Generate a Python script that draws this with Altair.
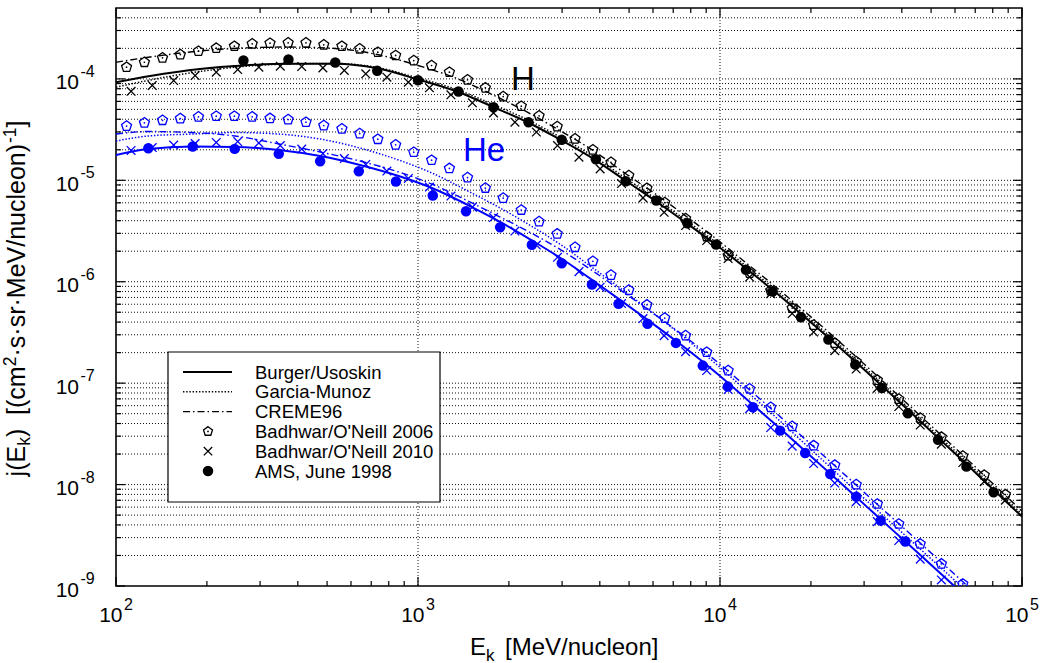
import numpy as np
import pandas as pd
import altair as alt

# ---------------- data: log10(E [MeV/nucleon]) and log10(j) ----------------
# model curves (H)
H_LINE_LOGE = [2.000, 2.113, 2.278, 2.421, 2.570, 2.726, 2.865, 3.000, 3.133, 3.249, 3.368, 3.458, 3.590, 3.689,
               3.789, 3.891, 3.988, 4.087, 4.173, 4.269, 4.359, 4.448, 4.537, 4.623, 4.723, 4.816, 4.905, 5.000]
H_BU_LOGJ = [-4.033, -3.972, -3.903, -3.868, -3.851, -3.851, -3.896, -4.006, -4.129, -4.277, -4.435, -4.578, -4.805,
             -5.007, -5.209, -5.426, -5.638, -5.870, -6.077, -6.319, -6.551, -6.787, -7.029, -7.265, -7.542, -7.798,
             -8.050, -8.316]
H_GM_LOGJ = [-4.082, -4.011, -3.927, -3.878, -3.853, -3.848, -3.888, -3.991, -4.110, -4.253, -4.410, -4.553, -4.780,
             -4.982, -5.185, -5.402, -5.614, -5.845, -6.052, -6.294, -6.526, -6.763, -7.004, -7.241, -7.517, -7.773,
             -8.025, -8.291]
H_CR_LOGJ = [-3.836, -3.784, -3.725, -3.695, -3.686, -3.700, -3.760, -3.868, -4.001, -4.159, -4.337, -4.489, -4.726,
             -4.938, -5.140, -5.362, -5.579, -5.816, -6.023, -6.265, -6.496, -6.733, -6.975, -7.211, -7.487, -7.744,
             -7.995, -8.262]

# model curves (He)
HE_BU_LOGE = [2.000, 2.106, 2.252, 2.394, 2.540, 2.676, 2.808, 2.941, 3.050, 3.159, 3.272, 3.378, 3.477, 3.577,
              3.663, 3.759, 3.855, 3.944, 4.027, 4.110, 4.199, 4.282, 4.365, 4.451, 4.531, 4.614, 4.696, 4.796]
HE_BU_LOGJ = [-4.751, -4.692, -4.667, -4.672, -4.701, -4.761, -4.849, -4.963, -5.081, -5.234, -5.411, -5.594, -5.776,
              -5.983, -6.166, -6.373, -6.585, -6.792, -6.999, -7.216, -7.448, -7.670, -7.892, -8.123, -8.340, -8.562,
              -8.784, -9.055]
HE_GM_LOGE = [2.000, 2.106, 2.252, 2.394, 2.540, 2.676, 2.808, 2.941, 3.050, 3.159, 3.272, 3.378, 3.477, 3.577,
              3.663, 3.759, 3.855, 3.944, 4.027, 4.110, 4.199, 4.282, 4.365, 4.451, 4.531, 4.614, 4.696, 4.796, 4.845]
HE_GM_LOGJ = [-4.613, -4.563, -4.544, -4.529, -4.544, -4.593, -4.682, -4.805, -4.933, -5.096, -5.273, -5.456, -5.643,
              -5.860, -6.048, -6.265, -6.486, -6.703, -6.915, -7.137, -7.374, -7.601, -7.828, -8.064, -8.281, -8.503,
              -8.725, -8.996, -9.134]
HE_CR_LOGE = [2.000, 2.106, 2.252, 2.394, 2.540, 2.676, 2.808, 2.941, 3.050, 3.159, 3.272, 3.378, 3.477, 3.577,
              3.663, 3.759, 3.855, 3.944, 4.027, 4.110, 4.199, 4.282, 4.365, 4.451, 4.531, 4.614, 4.696, 4.796, 4.862]
HE_CR_LOGJ = [-4.544, -4.519, -4.529, -4.563, -4.642, -4.721, -4.810, -4.923, -5.042, -5.195, -5.362, -5.525, -5.693,
              -5.890, -6.067, -6.269, -6.477, -6.679, -6.881, -7.098, -7.330, -7.552, -7.773, -8.005, -8.222, -8.444,
              -8.666, -8.937, -9.115]

# Badhwar/O'Neill 2006 (pentagons)
B06_LOGE = [2.035, 2.094, 2.154, 2.213, 2.273, 2.332, 2.392, 2.451, 2.510, 2.570, 2.629, 2.688, 2.748, 2.807, 2.867,
            2.926, 2.986, 3.045, 3.104, 3.164, 3.223, 3.282, 3.342, 3.401, 3.461, 3.520, 3.579, 3.639, 3.698, 3.758,
            3.817, 3.886, 3.956, 4.027, 4.098, 4.168, 4.239, 4.310, 4.380, 4.451, 4.521, 4.592, 4.663, 4.733, 4.804,
            4.875, 4.945]
H_B06_LOGJ = [-3.885, -3.836, -3.792, -3.760, -3.727, -3.697, -3.678, -3.654, -3.648, -3.644, -3.644, -3.664, -3.678,
              -3.703, -3.737, -3.769, -3.819, -3.868, -3.934, -4.009, -4.088, -4.174, -4.269, -4.364, -4.470, -4.591,
              -4.699, -4.822, -4.953, -5.078, -5.219, -5.377, -5.554, -5.742, -5.916, -6.087, -6.260, -6.427, -6.605,
              -6.787, -6.970, -7.157, -7.344, -7.532, -7.719, -7.907, -8.099]
HE_B06_LOGJ = [-4.465, -4.433, -4.408, -4.391, -4.374, -4.368, -4.368, -4.374, -4.389, -4.401, -4.427, -4.460, -4.492,
               -4.539, -4.595, -4.650, -4.723, -4.802, -4.882, -4.973, -5.076, -5.175, -5.293, -5.407, -5.528, -5.660,
               -5.798, -5.934, -6.082, -6.228, -6.358, -6.531, -6.695, -6.876, -7.056, -7.238, -7.425, -7.616, -7.808,
               -8.000, -8.191, -8.388, -8.585, -8.782, -8.980, -9.174]

# Badhwar/O'Neill 2010 (crosses)
B10_LOGE = [2.050, 2.120, 2.191, 2.262, 2.332, 2.403, 2.473, 2.544, 2.615, 2.685, 2.756, 2.827, 2.897, 2.968, 3.038,
            3.109, 3.180, 3.250, 3.321, 3.392, 3.462, 3.533, 3.603, 3.674, 3.745, 3.815, 3.886, 3.956, 4.027, 4.098,
            4.168, 4.239, 4.310, 4.380, 4.451, 4.521, 4.592, 4.663, 4.733, 4.804, 4.875, 4.945]
H_B10_LOGJ = [-4.122, -4.065, -4.016, -3.967, -3.934, -3.908, -3.885, -3.875, -3.878, -3.891, -3.917, -3.950, -3.983,
              -4.033, -4.088, -4.157, -4.236, -4.335, -4.427, -4.524, -4.657, -4.772, -4.887, -5.032, -5.173, -5.315,
              -5.446, -5.594, -5.771, -5.954, -6.117, -6.314, -6.496, -6.679, -6.861, -7.049, -7.231, -7.413, -7.601,
              -7.783, -7.971, -8.153]
HE_B10_LOGJ = [-4.706, -4.677, -4.652, -4.637, -4.627, -4.618, -4.632, -4.657, -4.692, -4.736, -4.785, -4.844, -4.909,
               -4.982, -5.066, -5.155, -5.264, -5.367, -5.500, -5.638, -5.759, -5.900, -6.054, -6.215, -6.363, -6.531,
               -6.689, -6.876, -7.063, -7.251, -7.438, -7.621, -7.793, -7.985, -8.168, -8.365, -8.552, -8.735, -8.940,
               -9.124]

# AMS, June 1998 (filled circles)
H_AMS_LOGE = [2.422, 2.571, 2.726, 2.865, 3.000, 3.134, 3.250, 3.366, 3.476, 3.589, 3.688, 3.789, 3.892, 3.987,
              4.086, 4.174, 4.268, 4.359, 4.448, 4.536, 4.622, 4.722, 4.816, 4.906]
H_AMS_LOGJ = [-3.819, -3.809, -3.838, -3.920, -4.013, -4.124, -4.279, -4.427, -4.601, -4.792, -5.009, -5.199, -5.423,
              -5.633, -5.883, -6.097, -6.350, -6.570, -6.817, -7.047, -7.297, -7.559, -7.823, -8.076]
HE_AMS_LOGE = [2.107, 2.254, 2.393, 2.539, 2.676, 2.804, 2.927, 3.049, 3.159, 3.272, 3.377, 3.476, 3.576, 3.664,
               3.760, 3.854, 3.943, 4.026, 4.109, 4.199, 4.282, 4.365, 4.451, 4.532, 4.614]
HE_AMS_LOGJ = [-4.684, -4.667, -4.690, -4.739, -4.812, -4.910, -5.012, -5.150, -5.305, -5.463, -5.636, -5.818, -6.028,
               -6.218, -6.415, -6.603, -6.827, -7.034, -7.238, -7.468, -7.688, -7.895, -8.119, -8.355, -8.562]

# axes
X_DOMAIN = [1e2, 1e5]
Y_DOMAIN = [1e-9, 5e-4]
X_TICK_EXP = [2, 3, 4, 5]
Y_TICK_EXP = [-9, -8, -7, -6, -5, -4]
X_GRID = [1e3, 1e4]
LEGEND_LABELS = ["Burger/Usoskin", "Garcia-Munoz", "CREME96",
                 "Badhwar/O'Neill 2006", "Badhwar/O'Neill 2010", "AMS, June 1998"]

# ---------------- styling ----------------
W, H = 906, 578
BLUE = "#0000ff"
FONT = "Liberation Sans"
PENT = "M0,-1L0.951,-0.309L0.588,0.809L-0.588,0.809L-0.951,-0.309Z"
XMARK = "M-1,-1L1,1M-1,1L1,-1"
DASHDOT = [7, 3, 1.5, 3]
DOTTED = [1.4, 1.8]
GRID_DASH = [1, 2]

xs = alt.Scale(type="log", domain=X_DOMAIN)
ys = alt.Scale(type="log", domain=Y_DOMAIN)
X = alt.X("E:Q", scale=xs, axis=None)
Y = alt.Y("j:Q", scale=ys, axis=None)


def frame(loge, logj):
    return pd.DataFrame({"E": 10 ** np.asarray(loge, float), "j": 10 ** np.asarray(logj, float)})


def curve(loge, logj, color, style):
    kw = dict(color=color, clip=True, interpolate="monotone")
    if style == "solid":
        kw.update(strokeWidth=2.0)
    elif style == "dotted":
        kw.update(strokeWidth=1.5, strokeDash=DOTTED)
    else:
        kw.update(strokeWidth=1.4, strokeDash=DASHDOT)
    return alt.Chart(frame(loge, logj)).mark_line(**kw).encode(x=X, y=Y)


def markers(loge, logj, color, kind):
    df = frame(loge, logj)
    if kind == "pent":
        return [
            alt.Chart(df).mark_point(shape=PENT, size=110, filled=False, color=color, strokeWidth=1.3,
                                     opacity=1, clip=True).encode(x=X, y=Y),
            alt.Chart(df).mark_point(shape="circle", size=3, filled=True, color=color,
                                     opacity=1, clip=True).encode(x=X, y=Y),
        ]
    if kind == "cross":
        return [alt.Chart(df).mark_point(shape=XMARK, size=75, filled=False, color=color, strokeWidth=1.3,
                                         opacity=1, clip=True).encode(x=X, y=Y)]
    return [alt.Chart(df).mark_point(shape="circle", size=110, filled=True, color=color,
                                     opacity=1, clip=True).encode(x=X, y=Y)]


layers = []

# dotted grid
y_grid = pd.DataFrame({"j": [m * 10.0 ** e for e in range(-9, -3) for m in range(1, 10)
                             if 1.01e-9 < m * 10.0 ** e < 4.9e-4]})
x_grid = pd.DataFrame({"E": X_GRID})
layers.append(alt.Chart(y_grid).mark_rule(color="#111111", strokeWidth=1, strokeDash=GRID_DASH).encode(
    y=Y, x=alt.value(0), x2=alt.value(W)))
layers.append(alt.Chart(x_grid).mark_rule(color="#111111", strokeWidth=1, strokeDash=GRID_DASH).encode(
    x=X, y=alt.value(0), y2=alt.value(H)))

# inward ticks on all four sides
x_minor = pd.DataFrame({"E": [m * 10.0 ** e for e in range(2, 5) for m in range(2, 10)]})
x_major = pd.DataFrame({"E": [10.0 ** e for e in X_TICK_EXP]})
y_minor = pd.DataFrame({"j": [m * 10.0 ** e for e in range(-9, -3) for m in range(2, 10) if m * 10.0 ** e < 4.9e-4]})
y_major = pd.DataFrame({"j": [10.0 ** e for e in Y_TICK_EXP]})
for df, ln in ((x_minor, 5), (x_major, 9)):
    layers.append(alt.Chart(df).mark_rule(color="black", strokeWidth=1.2).encode(
        x=X, y=alt.value(H), y2=alt.value(H - ln)))
    layers.append(alt.Chart(df).mark_rule(color="black", strokeWidth=1.2).encode(
        x=X, y=alt.value(0), y2=alt.value(ln)))
for df, ln in ((y_minor, 5), (y_major, 9)):
    layers.append(alt.Chart(df).mark_rule(color="black", strokeWidth=1.2).encode(
        y=Y, x=alt.value(0), x2=alt.value(ln)))
    layers.append(alt.Chart(df).mark_rule(color="black", strokeWidth=1.2).encode(
        y=Y, x=alt.value(W), x2=alt.value(W - ln)))

# curves
layers += [
    curve(H_LINE_LOGE, H_GM_LOGJ, "black", "dotted"),
    curve(H_LINE_LOGE, H_CR_LOGJ, "black", "dashdot"),
    curve(H_LINE_LOGE, H_BU_LOGJ, "black", "solid"),
    curve(HE_GM_LOGE, HE_GM_LOGJ, BLUE, "dotted"),
    curve(HE_CR_LOGE, HE_CR_LOGJ, BLUE, "dashdot"),
    curve(HE_BU_LOGE, HE_BU_LOGJ, BLUE, "solid"),
]
# data points
layers += markers(B06_LOGE, H_B06_LOGJ, "black", "pent")
layers += markers(B10_LOGE, H_B10_LOGJ, "black", "cross")
layers += markers(H_AMS_LOGE, H_AMS_LOGJ, "black", "dot")
layers += markers(B06_LOGE[:len(HE_B06_LOGJ)], HE_B06_LOGJ, BLUE, "pent")
layers += markers(B10_LOGE[:len(HE_B10_LOGJ)], HE_B10_LOGJ, BLUE, "cross")
layers += markers(HE_AMS_LOGE, HE_AMS_LOGJ, BLUE, "dot")

one = pd.DataFrame({"a": [0]})

# legend box
layers.append(alt.Chart(one).mark_rect(fill="white", stroke="black", strokeWidth=1.2).encode(
    x=alt.value(52), x2=alt.value(324), y=alt.value(344), y2=alt.value(494)))
rows = [364, 383.8, 403.6, 423.4, 443.2, 463]
layers.append(alt.Chart(one).mark_rule(color="black", strokeWidth=2.0).encode(
    x=alt.value(67), x2=alt.value(116), y=alt.value(rows[0])))
layers.append(alt.Chart(one).mark_rule(color="black", strokeWidth=1.5, strokeDash=DOTTED).encode(
    x=alt.value(67), x2=alt.value(116), y=alt.value(rows[1])))
layers.append(alt.Chart(one).mark_rule(color="black", strokeWidth=1.4, strokeDash=DASHDOT).encode(
    x=alt.value(67), x2=alt.value(116), y=alt.value(rows[2])))
layers.append(alt.Chart(one).mark_point(shape=PENT, size=90, filled=False, color="black", strokeWidth=1.3,
                                        opacity=1).encode(x=alt.value(92), y=alt.value(rows[3])))
layers.append(alt.Chart(one).mark_point(shape="circle", size=3, filled=True, color="black",
                                        opacity=1).encode(x=alt.value(92), y=alt.value(rows[3])))
layers.append(alt.Chart(one).mark_point(shape=XMARK, size=70, filled=False, color="black", strokeWidth=1.3,
                                        opacity=1).encode(x=alt.value(92), y=alt.value(rows[4])))
layers.append(alt.Chart(one).mark_point(shape="circle", size=110, filled=True, color="black",
                                        opacity=1).encode(x=alt.value(92), y=alt.value(rows[5])))
for lab, ry in zip(LEGEND_LABELS, rows):
    layers.append(alt.Chart(one).mark_text(text=lab, align="left", baseline="alphabetic", font=FONT,
                                           fontSize=18.5, color="black").encode(
        x=alt.value(139), y=alt.value(ry + 6.5)))

# species labels
layers.append(alt.Chart(one).mark_text(text="H", align="left", baseline="alphabetic", font=FONT,
                                       fontSize=33, color="black").encode(x=alt.value(395), y=alt.value(82)))
layers.append(alt.Chart(one).mark_text(text="He", align="left", baseline="alphabetic", font=FONT,
                                       fontSize=33, color=BLUE).encode(x=alt.value(347), y=alt.value(153)))

# tick labels 10^n
xl = pd.DataFrame({"E": [10.0 ** e for e in X_TICK_EXP], "b": ["10"] * 4, "p": [str(e) for e in X_TICK_EXP]})
layers.append(alt.Chart(xl).mark_text(align="right", baseline="alphabetic", font=FONT, fontSize=21, dx=6.5,
                                      color="black").encode(x=X, y=alt.value(H + 35.5), text="b:N"))
layers.append(alt.Chart(xl).mark_text(align="left", baseline="alphabetic", font=FONT, fontSize=16, dx=8,
                                      color="black").encode(x=X, y=alt.value(H + 24), text="p:N"))
yl = pd.DataFrame({"j": [10.0 ** e for e in Y_TICK_EXP], "b": ["10"] * 6, "p": [str(e) for e in Y_TICK_EXP]})
layers.append(alt.Chart(yl).mark_text(align="right", baseline="alphabetic", font=FONT, fontSize=21, dy=10.5,
                                      color="black").encode(y=Y, x=alt.value(-37), text="b:N"))
layers.append(alt.Chart(yl).mark_text(align="left", baseline="alphabetic", font=FONT, fontSize=16, dy=-2,
                                      color="black").encode(y=Y, x=alt.value(-35.5), text="p:N"))


# axis titles (with sub/superscripts)
def txt(s, x, y, size, angle=0):
    kw = dict(text=s, align="left", baseline="alphabetic", font=FONT, fontSize=size, color="black")
    if angle:
        kw["angle"] = angle
    return alt.Chart(one).mark_text(**kw).encode(x=alt.value(x), y=alt.value(y))


layers += [
    txt("E", 354, 647, 24),
    txt("k", 370, 652.5, 17),
    txt("[MeV/nucleon]", 389, 647, 24),
]
# rotated y title: pieces stacked upward
yb = 468.4
layers += [
    txt("j(E", -91, yb, 25, 270),
    txt("k", -86, yb - 30.55, 17.5, 270),
    txt(")", -91, yb - 39.3, 25, 270),
    txt("[(cm", -91, yb - 61.5, 25, 270),
    txt("2", -100.5, yb - 110.1, 17.5, 270),
    txt("\u00b7s\u00b7sr\u00b7MeV/nucleon)", -91, yb - 119.9, 25, 270),
    txt("-1", -100.5, yb - 333.3, 17.5, 270),
    txt("]", -91, yb - 348.8, 25, 270),
]

chart = alt.layer(*layers).properties(
    width=W, height=H,
    padding={"left": 116, "top": 8, "right": 21, "bottom": 77},
    autosize=alt.AutoSizeParams(type="none"),
    background="white",
).configure_view(stroke="black", strokeWidth=1.6)

chart.save("out.html", embed_options={"renderer": "svg", "actions": False})
